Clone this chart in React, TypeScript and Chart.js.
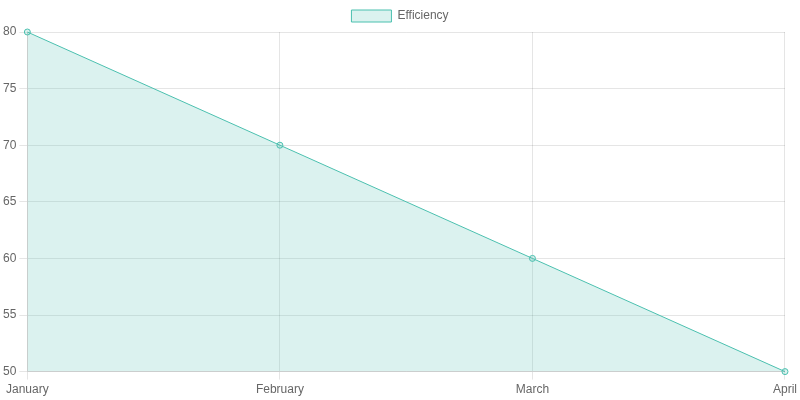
import { useEffect, useRef } from "react";
import Chart from "chart.js/auto";

const labels = ["January", "February", "March", "April"];
const efficiency = [80, 70, 60, 50];

const App = () => {
  const chartRef = useRef<HTMLCanvasElement | null>(null);

  useEffect(() => {
    document.body.style.margin = "0";
    if (!chartRef.current) return;
    const ctx = chartRef.current.getContext("2d");
    if (!ctx) return;
    const chart = new Chart(ctx, {
      type: "line",
      data: {
        labels,
        datasets: [
          {
            label: "Efficiency",
            data: efficiency,
            borderColor: "rgba(75, 192, 175, 1)",
            backgroundColor: "rgba(75, 192, 175, 0.2)",
            borderWidth: 1,
            fill: true,
          },
        ],
      },
      options: {
        animation: false,
        responsive: false,
      },
    });
    return () => chart.destroy();
  }, []);

  return <canvas ref={chartRef} width="800" height="400"></canvas>;
};

export default App;
